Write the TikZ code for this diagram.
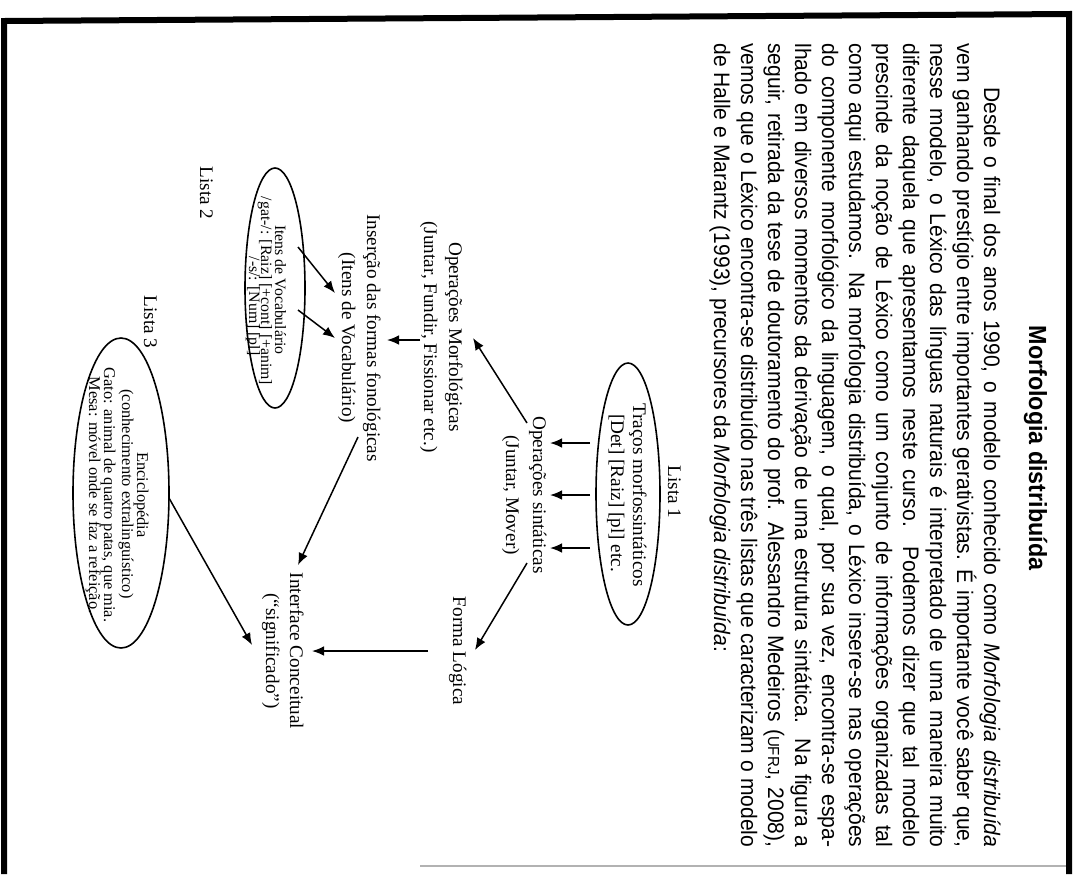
\documentclass[tikz,border=0pt]{standalone}
\usepackage{fontspec}
\setmainfont{Liberation Sans}[FakeStretch=0.94]
\newfontfamily\dfont{Liberation Serif}
\usetikzlibrary{shapes.geometric,arrows.meta}
\begin{document}
\begin{tikzpicture}[x=0.5pt,y=-0.5pt,
  body/.style={rotate=-90,anchor=base west,inner sep=0,font=\fontsize{11.2}{12}\selectfont},
  ttl/.style={rotate=-90,anchor=base,inner sep=0,font=\bfseries\fontsize{12.4}{14}\selectfont},
  dtext/.style={rotate=-90,anchor=base,inner sep=0,font=\dfont\fontsize{9.6}{11}\selectfont},
  stext/.style={rotate=-90,anchor=base,inner sep=0,font=\dfont\fontsize{8.2}{10}\selectfont},
  vtext/.style={rotate=-90,anchor=base,inner sep=0,font=\dfont\fontsize{7.9}{10}\selectfont},
  oval/.style={draw,ellipse,rotate=-90,inner sep=0,line width=0.8pt},
  arr/.style={-{Latex[length=6pt,width=4.8pt]},line width=0.75pt},
  frame/.style={line width=3pt}]
\useasboundingbox (0,0) rectangle (1079,874);
\fill[white] (0,0) rectangle (1079,874);
% frame
\draw[frame] (4,874) -- (4,21) -- (1069,14) -- (1069,874);
\draw[gray!60,line width=0.6pt] (420,866) -- (1066,866);
% title and text
\node[ttl] (title) at (1029,448) {Morfologia distribuída};
\node[body] (b0) at (984,87) {\makebox[380pt][s]{Desde o final dos anos 1990, o modelo conhecido como \textit{Morfologia distribuída}}};
\node[body] (b1) at (957,43) {\makebox[402pt][s]{vem ganhando prestígio entre importantes gerativistas. É importante você saber que,}};
\node[body] (b2) at (930,43) {\makebox[402pt][s]{nesse modelo, o Léxico das línguas naturais é interpretado de uma maneira muito}};
\node[body] (b3) at (903,43) {\makebox[402pt][s]{diferente daquela que apresentamos neste curso. Podemos dizer que tal modelo}};
\node[body] (b4) at (876,43) {\makebox[402pt][s]{prescinde da noção de Léxico como um conjunto de informações organizadas tal}};
\node[body] (b5) at (849,43) {\makebox[402pt][s]{como aqui estudamos. Na morfologia distribuída, o Léxico insere-se nas operações}};
\node[body] (b6) at (822,43) {\makebox[402pt][s]{do componente morfológico da linguagem, o qual, por sua vez, encontra-se espa-}};
\node[body] (b7) at (795,43) {\makebox[402pt][s]{lhado em diversos momentos da derivação de uma estrutura sintática. Na figura a}};
\node[body] (b8) at (768,43) {\makebox[402pt][s]{seguir, retirada da tese de doutoramento do prof. Alessandro Medeiros ({\fontsize{8}{8}\selectfont UFRJ}, 2008),}};
\node[body] (b9) at (741,43) {\makebox[402pt][s]{vemos que o Léxico encontra-se distribuído nas três listas que caracterizam o modelo}};
\node[body] (b10) at (714,43) {de Halle e Marantz (1993), precursores da \textit{Morfologia distribuída}:};
% diagram: ovals
\node[oval,minimum width=131pt,minimum height=32pt] (ell1) at (628,494) {};
\node[oval,minimum width=120pt,minimum height=30pt] (ell2) at (275,288) {};
\node[oval,minimum width=155pt,minimum height=48pt] (ell3) at (121,493) {};
% list 1
\node[dtext] (lista1) at (668,492) {Lista 1};
\node[dtext] (tracos) at (633,495) {Traços morfossintáticos};
\node[dtext] (det) at (611,493) {[Det] [Raiz] [pl] etc.};
\node[dtext] (opsin) at (533,495) {Operações sintáticas};
\node[dtext] (opsinb) at (506,495) {(Juntar, Mover)};
\node[dtext] (forma) at (453,651) {Forma Lógica};
\node[dtext] (opmor) at (449,337) {Operações Morfológicas};
\node[dtext] (opmorb) at (424,337) {(Juntar, Fundir, Fissionar etc.)};
\node[dtext] (ins) at (367,338) {Inserção das formas fonológicas};
\node[dtext] (insb) at (342,338) {(Itens de Vocabulário)};
\node[dtext] (inter) at (290,651) {Interface Conceitual};
\node[dtext] (interb) at (266,651) {(“significado”)};
% list 2
\node[dtext] (lista2) at (200,193) {Lista 2};
\node[vtext] (itens) at (275,290) {Itens de Vocabulário};
\node[vtext] (gat) at (261,291) {/gat-/: [Raiz] [+cont] [+anim]};
\node[vtext] (num) at (249,306) {/-s/: [Num] [pl]};
% list 3
\node[dtext] (lista3) at (144,322) {Lista 3};
\node[stext] (enc) at (137,495) {Enciclopédia};
\node[stext] (conh) at (122,494) {(conhecimento extralinguístico)};
\node[stext] (gato) at (104,495) {Gato: animal de quatro patas, que mia.};
\node[stext] (mesa) at (89,495) {Mesa: móvel onde se faz a refeição.};
% arrow ends
\coordinate (a1s) at (590,443); \coordinate (a1e) at (550,443);
\coordinate (a2s) at (590,495); \coordinate (a2e) at (550,495);
\coordinate (a3s) at (590,548); \coordinate (a3e) at (550,548);
\coordinate (sfs) at (527,563); \coordinate (sfe) at (475,650);
\coordinate (sms) at (527,423); \coordinate (sme) at (473,338);
\coordinate (mis) at (420,340); \coordinate (mie) at (387,340);
\coordinate (fis) at (428,651); \coordinate (fie) at (312,651);
\coordinate (iis) at (358,437); \coordinate (iie) at (298,565);
\coordinate (v1s) at (298,247); \coordinate (v1e) at (335,293);
\coordinate (v2s) at (298,310); \coordinate (v2e) at (335,338);
\coordinate (eis) at (169,498); \coordinate (eie) at (252,645);
\draw[arr] (a1s) -- (a1e);
\draw[arr] (a2s) -- (a2e);
\draw[arr] (a3s) -- (a3e);
\draw[arr] (sfs) -- (sfe);
\draw[arr] (sms) -- (sme);
\draw[arr] (mis) -- (mie);
\draw[arr] (fis) -- (fie);
\draw[arr] (iis) -- (iie);
\draw[arr] (v1s) -- (v1e);
\draw[arr] (v2s) -- (v2e);
\draw[arr] (eis) -- (eie);
\end{tikzpicture}
\end{document}
